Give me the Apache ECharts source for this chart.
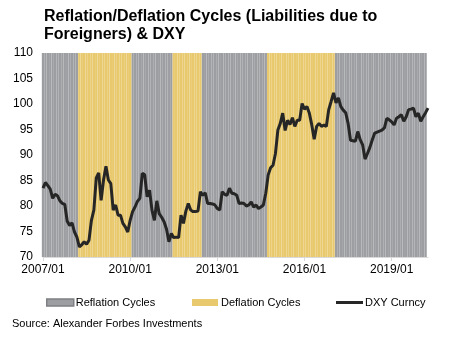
<!DOCTYPE html>
<html>
<head>
<meta charset="utf-8">
<script src="https://cdn.jsdelivr.net/npm/echarts@6/dist/echarts.min.js"></script>
<style>
html,body{margin:0;padding:0;background:#fff;}
#chart{width:455px;height:341px;}
</style>
</head>
<body>
<div id="chart"></div>
<script>
// Month categories 2007/01 .. 2020/04
const months = [];
for (let y = 2007; y <= 2020; y++) {
  for (let m = 1; m <= 12; m++) {
    if (y === 2020 && m > 4) break;
    months.push(y + '/' + (m < 10 ? '0' + m : m));
  }
}
const tickLabels = ['2007/01', '2010/01', '2013/01', '2016/01', '2019/01'];

// Cycle periods (start, end month inclusive)
const reflationPeriods = [['2007/01','2008/03'],['2010/02','2011/06'],['2012/07','2014/09'],['2017/02','2020/03']];
const deflationPeriods = [['2008/04','2010/01'],['2011/07','2012/06'],['2014/10','2017/01']];
const cycleTop = 110;

// DXY Curncy monthly values
const dxy = [
  83.5, 84.6, 84.0, 83.3, 81.5, 82.3, 82.0, 81.0, 80.5, 80.3,
  77.0, 76.2, 76.7, 74.9, 73.9, 72.0, 72.4, 73.0, 72.5, 73.3,
  77.2, 79.2, 85.5, 86.5, 81.1, 85.1, 87.8, 85.1, 84.4, 79.2,
  80.2, 78.2, 78.2, 76.6, 75.9, 74.9, 77.2, 78.9, 79.8, 80.9,
  81.5, 86.4, 86.1, 81.8, 83.1, 79.2, 77.2, 81.0, 78.5, 77.8,
  76.9, 75.5, 73.0, 74.6, 73.8, 73.9, 73.8, 78.2, 76.6, 79.0,
  80.5, 79.2, 78.9, 78.9, 79.0, 82.8, 82.1, 82.6, 80.5, 80.5,
  80.4, 80.2, 79.5, 79.2, 82.8, 82.3, 82.1, 83.5, 82.5, 82.4,
  82.1, 80.5, 80.6, 80.5, 80.0, 80.2, 80.8, 79.8, 80.2, 79.5,
  79.8, 80.2, 82.5, 86.1, 87.5, 88.0, 90.3, 94.9, 96.2, 98.2,
  94.8, 96.8, 96.0, 97.3, 95.6, 96.8, 96.8, 100.1, 99.0, 99.5,
  98.2, 95.9, 93.1, 95.6, 96.2, 95.6, 95.9, 95.6, 98.9, 100.5,
  102.2, 100.2, 101.2, 99.5, 98.8, 98.3, 96.2, 92.9, 92.8, 92.7,
  94.6, 93.0, 92.0, 89.2, 90.3, 91.5, 93.0, 94.3, 94.5, 94.7,
  94.9, 95.3, 97.2, 96.9, 96.5, 95.9, 97.2, 97.5, 97.9, 96.6,
  97.5, 98.9, 99.0, 99.2, 97.5, 98.2, 96.6, 97.5, 98.3, 99.2
];

function periodData(periods) {
  return months.map(function (m) {
    for (const p of periods) {
      if (m >= p[0] && m <= p[1]) return cycleTop;
    }
    return '-';
  });
}

const chart = echarts.init(document.getElementById('chart'), null, {renderer: 'canvas'});
const font = 'Arial, "Liberation Sans", sans-serif';
chart.setOption({
  animation: false,
  backgroundColor: '#ffffff',
  title: {
    text: 'Reflation/Deflation Cycles (Liabilities due to\nForeigners) & DXY',
    left: 39, top: 3,
    textStyle: {fontFamily: font, fontSize: 16, fontWeight: 'bold', color: '#000', lineHeight: 18}
  },
  graphic: [{
    type: 'text', left: 12, top: 318,
    style: {text: 'Source: Alexander Forbes Investments', font: '11px ' + font, fill: '#000'}
  }],
  legend: [
    {data: [{name: 'Reflation Cycles', itemStyle: {borderColor: '#7f8083', borderWidth: 1.5}}],
     left: 41, top: 292, itemWidth: 27, itemHeight: 7, icon: 'rect', itemGap: 0,
     textStyle: {fontFamily: font, fontSize: 11, color: '#000', padding: [0,0,0,-3]}},
    {data: ['Deflation Cycles'], left: 187, top: 292, itemWidth: 26, itemHeight: 7, icon: 'rect',
     textStyle: {fontFamily: font, fontSize: 11, color: '#000', padding: [0,0,0,-2]}},
    {data: [{name: 'DXY Curncy', icon: 'rect'}], left: 331, top: 292, itemWidth: 27, itemHeight: 3,
     textStyle: {fontFamily: font, fontSize: 11, color: '#000', padding: [0,0,0,-3]}}
  ],
  grid: {left: 43, top: 53, width: 385, height: 204, containLabel: false},
  xAxis: {
    type: 'category', data: months, boundaryGap: false,
    axisLine: {lineStyle: {color: '#d9d9d9', width: 1}},
    axisTick: {length: 4, lineStyle: {color: '#d9d9d9'},
      interval: function (i, v) { return tickLabels.indexOf(v) >= 0; }},
    axisLabel: {
      interval: function (i, v) { return tickLabels.indexOf(v) >= 0; },
      fontFamily: font, fontSize: 12, color: '#000', margin: 7
    },
    splitLine: {show: false}
  },
  yAxis: {
    type: 'value', min: 70, max: 110, interval: 5,
    axisLine: {show: false}, axisTick: {show: false},
    axisLabel: {fontFamily: font, fontSize: 12, color: '#000', margin: 10},
    splitLine: {show: false}
  },
  series: [
    {name: 'Reflation Cycles', type: 'bar', data: periodData(reflationPeriods),
     barCategoryGap: '3%', barGap: '-100%', itemStyle: {color: '#9c9ea1'}, clip: true, z: 1},
    {name: 'Deflation Cycles', type: 'bar', data: periodData(deflationPeriods),
     barCategoryGap: '3%', barGap: '-100%', itemStyle: {color: '#e8c96e'}, clip: true, z: 1},
    {name: 'DXY Curncy', type: 'line', data: dxy, symbol: 'none', z: 5,
     lineStyle: {color: '#262626', width: 3}, itemStyle: {color: '#262626'}}
  ]
});
</script>
</body>
</html>
